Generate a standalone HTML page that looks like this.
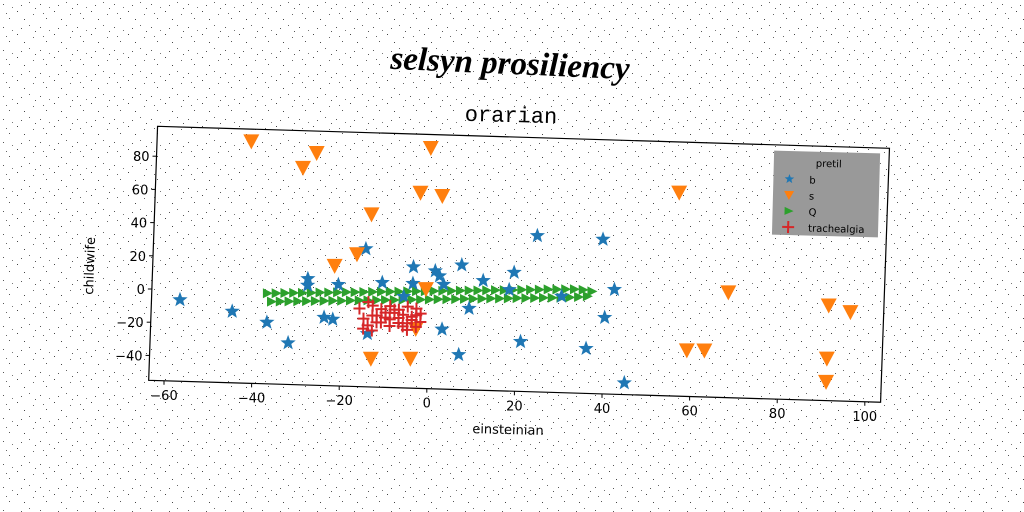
<!DOCTYPE html>
<html><head><meta charset="utf-8"><style>
html,body{margin:0;padding:0;background:#fff;}
svg{display:block;}
</style></head><body>
<svg id="chart" width="1024" height="512" viewBox="0 0 1024 512" font-family="DejaVu Sans, Liberation Sans, sans-serif">
<defs>
<pattern id="noise" width="37" height="23" patternUnits="userSpaceOnUse">
<rect x="3" y="4" width="1" height="1" fill="#555"/><rect x="17" y="11" width="1" height="1" fill="#444"/>
<rect x="29" y="2" width="1" height="1" fill="#666"/><rect x="9" y="18" width="1" height="1" fill="#555"/>
<rect x="24" y="19" width="1" height="1" fill="#444"/><rect x="33" y="14" width="1" height="1" fill="#666"/>
<rect x="12" y="7" width="1" height="1" fill="#777"/><rect x="21" y="5" width="1" height="1" fill="#555"/>
<rect x="6" y="13" width="1" height="1" fill="#666"/><rect x="35" y="8" width="1" height="1" fill="#555"/>
</pattern>
</defs>
<rect width="1024" height="512" fill="#fff"/>
<rect width="1024" height="512" fill="url(#noise)"/>
<text x="510" y="74" text-anchor="middle" style="font-family:'Liberation Serif',serif;font-size:33px;font-weight:bold;font-style:italic" transform="rotate(2.5 510 65)">selsyn prosiliency</text>
<text x="511" y="122" text-anchor="middle" style="font-family:'Liberation Mono',monospace;font-size:22px" transform="rotate(1.5 511 116)">orarian</text>
<g id="plot"></g>
<text x="508" y="434" text-anchor="middle" font-size="13" transform="rotate(1.5 508 430)">einsteinian</text>
<text x="94" y="266" text-anchor="middle" font-size="13" transform="rotate(-88 94 266)">childwife</text>
</svg>
<script>
const xTicks=[-60,-40,-20,0,20,40,60,80,100];
const yTicks=[-40,-20,0,20,40,60,80];
const bX=[-57,-45,-37,-28,-28,-32,-21,-24,-22,-15,-11,-4,-4,-6,1,2,3,7,9,3,7,12,19,21,24,39,42,40,36,45,-14,18,30];
const bY=[-6,-12,-18,9,5,-30,6,-14,-15,28,8,18,8,0,16,13,8,20,-6,-19,-34,11,16.5,-25,39,38,8,-9,-28,-48,-23,6,3];
const oX=[-42,-27,-30,-1,-3,2,-14,-17,-22,-1,-3,-13,-4,56,68,59,63,91,96,91,91];
const oY=[90.6,84.8,75.6,89.9,62.8,61.2,48.9,24.6,17.2,4.9,-19.2,-38,-37.3,67.5,8.4,-27.3,-27,2.3,-1.3,-29.7,-43.7];
const gX=[-37,-35,-33,-31,-29,-27,-25,-23,-21,-19,-17,-15,-13,-11,-9,-7,-5,-3,-1,1,3,5,7,9,11,13,15,17,19,21,23,25,27,29,31,33,35,37,
-36,-34,-32,-30,-28,-26,-24,-22,-20,-18,-16,-14,-12,-10,-8,-6,-4,-2,0,2,4,6,8,10,12,14,16,18,20,22,24,26,28,30,32,34,36];
const gY=[-0.5,-0.3,0,0.2,0.4,0.6,0.9,1.1,1.3,1.6,1.8,2,2.3,2.5,2.7,2.9,3.2,3.4,3.6,3.9,4.1,4.3,4.6,4.8,5,5.2,5.5,5.7,5.9,6.2,6.4,6.6,6.9,7.1,7.3,7.5,7.3,6.5,
-5.4,-5.2,-5,-4.7,-4.5,-4.3,-4,-3.8,-3.6,-3.3,-3.1,-2.9,-2.6,-2.4,-2.2,-2,-1.7,-1.5,-1.3,-1,-0.8,-0.6,-0.3,-0.1,0.1,0.4,0.6,0.8,1.1,1.3,1.5,1.8,2,2.2,2.5,2.9,3.5];
const rX=[-16,-15,-14,-13,-12,-11,-10,-9,-8,-7,-6,-5,-4,-3,-2,-15,-13,-11,-9,-7,-5,-3,-14,-12,-10,-8,-6,-4,-2,-13,-9,-5,-3,-7];
const rY=[-8,-14,-18,-6,-12,-16,-10,-14,-8,-16,-11,-6,-14,-18,-10,-20,-12,-8,-18,-13,-20,-7,-4,-16,-13,-10,-18,-12,-15,-21,-6,-16,-11,-8];

const NS="http://www.w3.org/2000/svg";
const plot=document.getElementById('plot');
function map(x,y){const u=4.38*x,v=-1.66*y;return [430+u-0.035*v,289+v+0.03*(u+278)];}
function mk(tag,attrs){const e=document.createElementNS(NS,tag);for(const k in attrs)e.setAttribute(k,attrs[k]);plot.appendChild(e);return e;}
const X0=-63.5,X1=103.6,Y0=-55,Y1=98;
const c=[map(X0,Y1),map(X1,Y1),map(X1,Y0),map(X0,Y0)];
const frame=mk('polygon',{points:c.map(p=>p.join(',')).join(' '),fill:'none',stroke:'#000','stroke-width':1.2});


xTicks.forEach(t=>{const p=map(t,Y0);
 const l=mk('line',{x1:p[0],y1:p[1],x2:p[0],y2:p[1]+4,stroke:'#000'});
 
 
 const tx=mk('text',{x:p[0],y:p[1]+19,'text-anchor':'middle','font-size':13});
 tx.textContent=String(t).replace('-','−');
 
 });
yTicks.forEach(t=>{const p=map(X0,t);
 const l=mk('line',{x1:p[0]-4,y1:p[1],x2:p[0],y2:p[1],stroke:'#000'});
 
 
 const tx=mk('text',{x:p[0]-7,y:p[1]+5,'text-anchor':'end','font-size':13});
 tx.textContent=String(t).replace('-','−');
 
 });
function star(cx,cy,r){let s='';for(let i=0;i<10;i++){const a=-Math.PI/2+i*Math.PI/5,rr=i%2?r*0.42:r;s+=(cx+rr*Math.cos(a))+','+(cy+rr*Math.sin(a))+' ';}return s;}
gX.forEach((x,i)=>{const p=map(x,gY[i]);
 const e=mk('polygon',{points:`${p[0]-5},${p[1]-5} ${p[0]+5},${p[1]} ${p[0]-5},${p[1]+5}`,fill:'#2ca02c'});
 
 });
bX.forEach((x,i)=>{const p=map(x,bY[i]);
 const e=mk('polygon',{points:star(p[0],p[1],8),fill:'#1f77b4'});
 
 });
oX.forEach((x,i)=>{const p=map(x,oY[i]);
 const e=mk('polygon',{points:`${p[0]-8},${p[1]-7} ${p[0]+8},${p[1]-7} ${p[0]},${p[1]+8}`,fill:'#ff7f0e'});
 
 });
rX.forEach((x,i)=>{const p=map(x,rY[i]);
 const e=mk('path',{d:`M${p[0]-6},${p[1]}H${p[0]+6}M${p[0]},${p[1]-6}V${p[1]+6}`,stroke:'#d62728','stroke-width':2});
 
 });
const lg=mk('g',{transform:'rotate(1.5 826 195)'});


function lmk(tag,attrs){const e=document.createElementNS(NS,tag);for(const k in attrs)e.setAttribute(k,attrs[k]);lg.appendChild(e);return e;}
const box=lmk('rect',{x:773,y:152,width:106,height:84,fill:'#999'});


const lt=lmk('text',{x:828,y:167,'text-anchor':'middle','font-size':10});lt.textContent='pretil';


const names=['b','s','Q','trachealgia'];
names.forEach((n,i)=>{const y=180+i*16;
 let m;
 if(i===0)m=lmk('polygon',{points:star(789,y,5),fill:'#1f77b4'});
 else if(i===1)m=lmk('polygon',{points:`${784},${y-4} ${794},${y-4} ${789},${y+5}`,fill:'#ff7f0e'});
 else if(i===2)m=lmk('polygon',{points:`${785},${y-4} ${794},${y} ${785},${y+4}`,fill:'#2ca02c'});
 else m=lmk('path',{d:`M783,${y}H795M789,${y-6}V${y+6}`,stroke:'#d62728','stroke-width':2});
 
 
 const t=lmk('text',{x:809,y:y+4,'font-size':10});t.textContent=n;
 
 });
</script>
</body></html>
